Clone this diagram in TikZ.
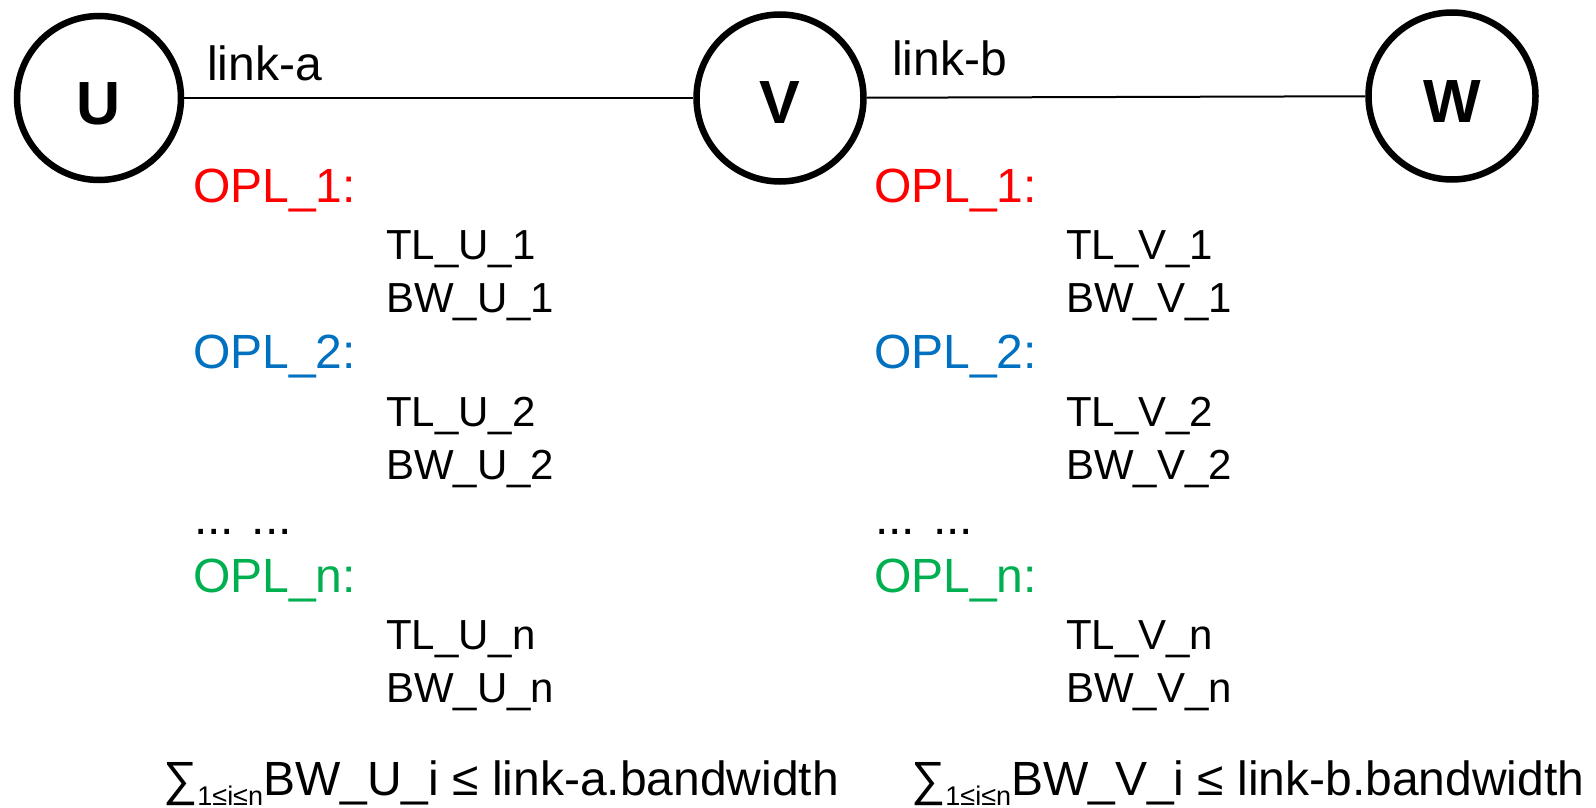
\documentclass[tikz,border=0pt]{standalone}
\usepackage{fontspec}
\setmainfont{Liberation Sans}
\definecolor{oplred}{RGB}{255,0,0}
\definecolor{oplblue}{RGB}{0,112,192}
\definecolor{oplgreen}{RGB}{0,176,80}
\tikzset{
  vertex/.style={circle,draw,line width=6.5pt,inner sep=0pt},
  vlabel/.style={anchor=base,inner sep=0pt,font=\fontsize{61}{70}\selectfont\bfseries},
  txt/.style={anchor=base west,inner sep=0pt,font=\fontsize{48}{56}\selectfont},
  sub/.style={anchor=base west,inner sep=0pt,font=\fontsize{42}{50}\selectfont},
  linkline/.style={line width=2pt},
}
\begin{document}
\begin{tikzpicture}[x=1pt,y=-1pt]
\useasboundingbox (0,0) rectangle (1596,808);
% vertices
\node[vertex,minimum size=164pt] (U) at (99,98) {};
\node[vertex,minimum size=167pt] (V) at (780,98) {};
\node[vertex,minimum size=167pt] (W) at (1452,96) {};
\node[vlabel] (Ul) at (99,124) {U};
\node[vlabel] (Vl) at (780,123) {V};
\node[vlabel] (Wl) at (1452,122) {W};
% links
\draw[linkline] (U) -- (V);
\draw[linkline] (V) -- (W);
\node[txt] (la) at (207,81) {link-a};
\node[txt] (lb) at (892,76) {link-b};
% left column
\node[txt,text=oplred] (ou1) at (193,202) {OPL\_1:};
\node[sub] (tu1) at (386,259) {TL\_U\_1};
\node[sub] (bu1) at (386,312) {BW\_U\_1};
\node[txt,text=oplblue] (ou2) at (193,368) {OPL\_2:};
\node[sub] (tu2) at (386,426) {TL\_U\_2};
\node[sub] (bu2) at (386,479) {BW\_U\_2};
\node[txt] (du) at (194,534) {... ...};
\node[txt,text=oplgreen] (oun) at (193,592) {OPL\_n:};
\node[sub] (tun) at (386,649) {TL\_U\_n};
\node[sub] (bun) at (386,702) {BW\_U\_n};
% right column
\node[txt,text=oplred] (ov1) at (874,202) {OPL\_1:};
\node[sub] (tv1) at (1066,259) {TL\_V\_1};
\node[sub] (bv1) at (1066,312) {BW\_V\_1};
\node[txt,text=oplblue] (ov2) at (874,368) {OPL\_2:};
\node[sub] (tv2) at (1066,426) {TL\_V\_2};
\node[sub] (bv2) at (1066,479) {BW\_V\_2};
\node[txt] (dv) at (875,534) {... ...};
\node[txt,text=oplgreen] (ovn) at (874,592) {OPL\_n:};
\node[sub] (tvn) at (1066,649) {TL\_V\_n};
\node[sub] (bvn) at (1066,702) {BW\_V\_n};
% constraints
\node[txt] (fa) at (163,795) {∑\raisebox{-10pt}{\fontsize{27}{27}\selectfont 1≤i≤n}BW\_U\_i ≤ link-a.bandwidth};
\node[txt] (fb) at (911,795) {∑\raisebox{-10pt}{\fontsize{27}{27}\selectfont 1≤i≤n}BW\_V\_i ≤ link-b.bandwidth};
\end{tikzpicture}
\end{document}
